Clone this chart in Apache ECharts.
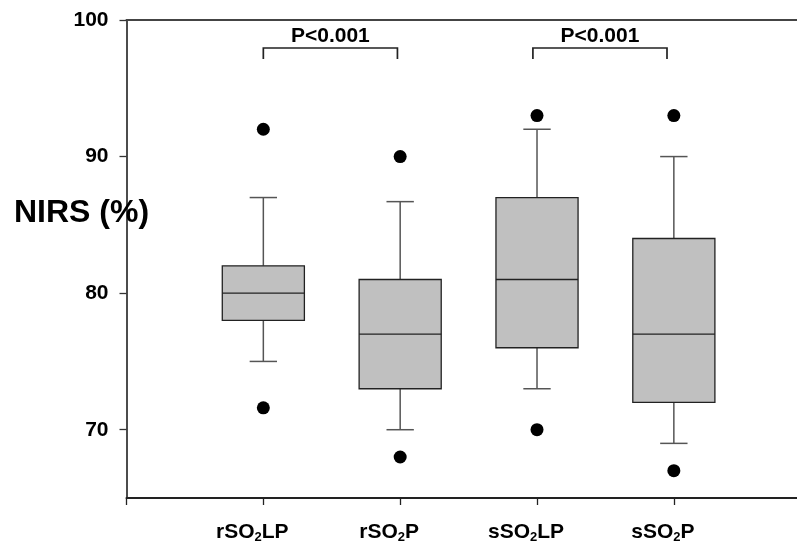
<!DOCTYPE html>
<html>
<head>
<meta charset="utf-8">
<script src="https://cdn.jsdelivr.net/npm/echarts@6/dist/echarts.min.js"></script>
<style>
  html,body{margin:0;padding:0;background:#fff}
  #main{width:797px;height:546px}
</style>
</head>
<body>
<div id="main"></div>
<script>
// groups, '2' in the name is drawn as subscript
const categories = ['rSO2LP', 'rSO2P', 'sSO2LP', 'sSO2P']
const whiskerLow = [75, 70, 73, 69]
const q1 = [78, 73, 76, 72]
const median = [80, 77, 81, 77]
const q3 = [82, 81, 87, 84]
const whiskerHigh = [87, 86.7, 92, 90]
const outliers = [[92, 71.6], [90, 68], [93, 70], [93, 67]]
const yTicks = [70, 80, 90, 100]
const pLabel = 'P<0.001'
// pairs compared (x positions of bracket ends)
const brackets = [[1.0, 1.98], [2.97, 3.95]]

const FONT = '"Liberation Sans", Arial, sans-serif'

let boxData = categories.map((c, i) => [i + 1, whiskerLow[i], q1[i], median[i], q3[i], whiskerHigh[i]])
let dotData = []
outliers.forEach((pair, i) => pair.forEach(v => dotData.push([i + 1, v])))

const renderBox = (params, api) => {
  let x = api.value(0)
  let band = api.size([1, 0])[0]
  let half = band * 0.3
  let cap = band * 0.1
  let lo = api.coord([x, api.value(1)])
  let b1 = api.coord([x, api.value(2)])
  let md = api.coord([x, api.value(3)])
  let b3 = api.coord([x, api.value(4)])
  let hi = api.coord([x, api.value(5)])
  let cx = lo[0]
  let wStyle = {stroke: '#555', lineWidth: 1.5}
  let bStyle = {stroke: '#222', lineWidth: 1.3}
  return {
    type: 'group',
    children: [
      {type: 'line', shape: {x1: cx, y1: b3[1], x2: cx, y2: hi[1]}, style: wStyle},
      {type: 'line', shape: {x1: cx, y1: b1[1], x2: cx, y2: lo[1]}, style: wStyle},
      {type: 'line', shape: {x1: cx - cap, y1: hi[1], x2: cx + cap, y2: hi[1]}, style: wStyle},
      {type: 'line', shape: {x1: cx - cap, y1: lo[1], x2: cx + cap, y2: lo[1]}, style: wStyle},
      {type: 'rect', shape: {x: cx - half, y: b3[1], width: half * 2, height: b1[1] - b3[1]},
        style: {fill: '#c0c0c0', stroke: '#222', lineWidth: 1.3}},
      {type: 'line', shape: {x1: cx - half, y1: md[1], x2: cx + half, y2: md[1]}, style: bStyle}
    ]
  }
}

const renderBracket = (params, api) => {
  let a = api.coord([api.value(0), 97.95])
  let b = api.coord([api.value(1), 97.95])
  let drop = api.coord([api.value(0), 97.15])[1]
  let t = api.coord([(api.value(0) + api.value(1)) / 2, 98.83])
  return {
    type: 'group',
    children: [
      {type: 'polyline', shape: {points: [[a[0], drop], a, b, [b[0], drop]]},
        style: {stroke: '#222', lineWidth: 1.7, fill: null}},
      {type: 'text', x: t[0], y: t[1],
        style: {text: pLabel, fill: '#000', font: 'bold 21px ' + FONT, align: 'center', verticalAlign: 'middle'}}
    ]
  }
}

const catLabel = (v) => {
  let name = categories[Math.round(v) - 1]
  if (!name) return ''
  let k = name.indexOf('2')
  return '{b|' + name.slice(0, k) + '}{s|2}{b|' + name.slice(k + 1) + '}'
}

let chart = echarts.init(document.getElementById('main'))
let option = {
  animation: false,
  backgroundColor: '#fff',
  title: {
    text: 'NIRS (%)',
    left: 14, top: 197, padding: 0,
    textStyle: {fontFamily: FONT, fontSize: 32, fontWeight: 'bold', color: '#000'}
  },
  grid: {left: 126.5, right: 0, top: 20, bottom: 48, containLabel: false},
  xAxis: [
    {
      type: 'value', min: 0, max: 4.9,
      axisLine: {show: true, onZero: false, lineStyle: {color: '#222', width: 2}},
      axisTick: {show: true, length: 7, customValues: [0, 1, 2, 3, 4], lineStyle: {color: '#222', width: 1.3}},
      axisLabel: {
        customValues: [1, 2, 3, 4], margin: 23, formatter: catLabel,
        padding: [0, 22, 0, 0],
        rich: {
          b: {fontFamily: FONT, fontSize: 21, fontWeight: 'bold', color: '#000'},
          s: {fontFamily: FONT, fontSize: 13, fontWeight: 'bold', color: '#000', padding: [10, 0, 0, 0]}
        }
      },
      splitLine: {show: false}
    },
    {
      type: 'value', min: 0, max: 4.9, position: 'top',
      axisLine: {show: true, onZero: false, lineStyle: {color: '#444', width: 2}},
      axisTick: {show: false}, axisLabel: {show: false}, splitLine: {show: false}
    }
  ],
  yAxis: {
    type: 'value', min: 65, max: 100,
    axisLine: {show: true, lineStyle: {color: '#111', width: 1.5}},
    axisTick: {show: true, length: 7, customValues: yTicks, lineStyle: {color: '#333', width: 1.3}},
    axisLabel: {customValues: yTicks, margin: 18, fontFamily: FONT, fontSize: 21, fontWeight: 'bold', color: '#000'},
    splitLine: {show: false}
  },
  series: [
    {type: 'custom', renderItem: renderBox, data: boxData, encode: {x: 0, y: [1, 2, 3, 4, 5]}},
    {type: 'scatter', data: dotData, symbol: 'circle', symbolSize: 13, itemStyle: {color: '#000', opacity: 1}},
    {type: 'custom', renderItem: renderBracket, data: brackets, encode: {x: [0, 1]}}
  ]
}
chart.setOption(option)
</script>
</body>
</html>
